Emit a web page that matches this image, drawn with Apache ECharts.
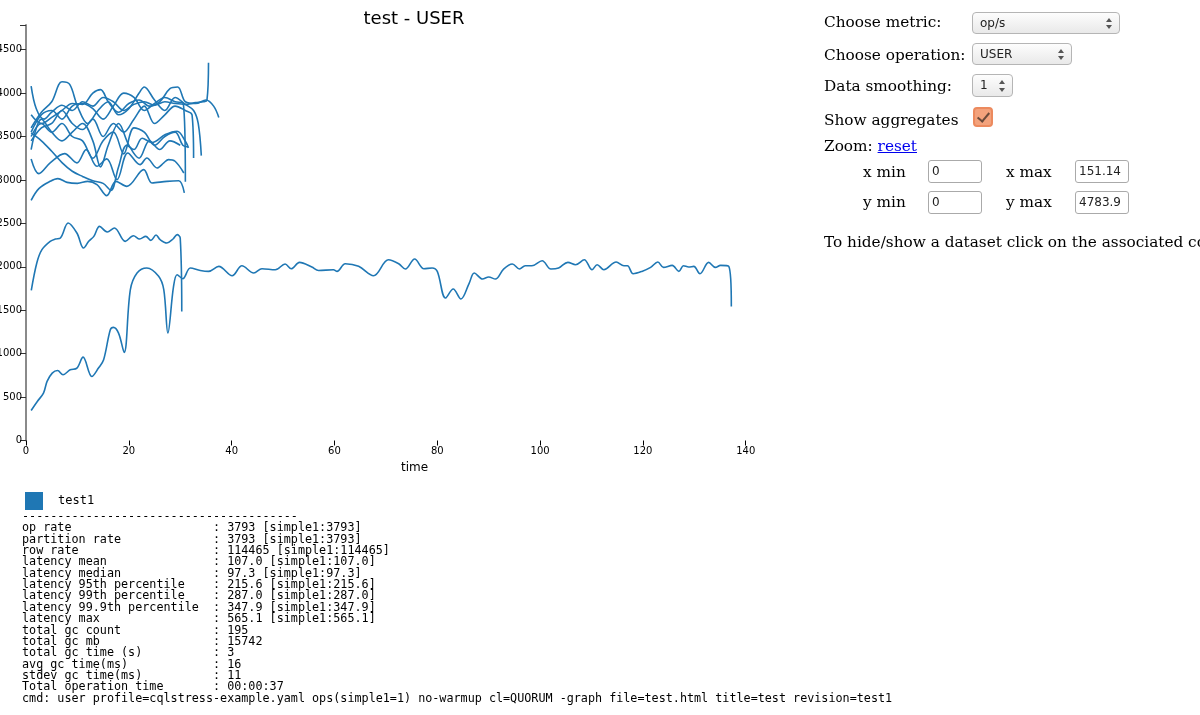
<!DOCTYPE html>
<html>
<head>
<meta charset="utf-8">
<script src="https://cdn.jsdelivr.net/npm/echarts@6/dist/echarts.min.js"></script>
<style>
html,body{margin:0;padding:0;width:1200px;height:715px;overflow:hidden;background:#fff;}
#chart{position:absolute;left:0;top:0;width:828px;height:515px;}
.lbl{position:absolute;font-family:"DejaVu Serif",serif;font-size:15.3px;color:#000;white-space:nowrap;line-height:18px;}
.sel{position:absolute;border:1px solid #b5b5b5;border-radius:4px;background:linear-gradient(#fdfdfd,#e9e9e9);font-family:"DejaVu Sans",sans-serif;font-size:12px;color:#222;box-sizing:border-box;padding-left:7px;}
.arr{position:absolute;right:7px;width:0;height:0;border-left:3px solid transparent;border-right:3px solid transparent;}
.arr.up{border-bottom:4px solid #555;}
.arr.dn{border-top:4px solid #555;}
.inp{position:absolute;border:1px solid #aaa;border-radius:3px;background:#fff;font-family:"DejaVu Sans",sans-serif;font-size:12px;color:#222;box-sizing:border-box;padding-left:3px;}
.st{position:absolute;left:22px;margin:0;font-family:"DejaVu Sans Mono",monospace;font-size:11.75px;line-height:12px;white-space:pre;color:#000;}
a{color:#0000ee;}
</style>
</head>
<body>
<div id="chart"></div>

<div class="lbl" style="left:824px;top:13px;">Choose metric:</div>
<div class="sel" style="left:972px;top:12px;width:148px;height:22px;line-height:20px;">op/s<div class="arr up" style="top:5px"></div><div class="arr dn" style="top:12px"></div></div>

<div class="lbl" style="left:824px;top:46px;">Choose operation:</div>
<div class="sel" style="left:972px;top:43px;width:100px;height:22px;line-height:20px;">USER<div class="arr up" style="top:5px"></div><div class="arr dn" style="top:12px"></div></div>

<div class="lbl" style="left:824px;top:77px;">Data smoothing:</div>
<div class="sel" style="left:972px;top:74px;width:41px;height:23px;line-height:21px;">1<div class="arr up" style="top:5px"></div><div class="arr dn" style="top:13px"></div></div>

<div class="lbl" style="left:824px;top:111px;">Show aggregates</div>
<div style="position:absolute;left:973px;top:107px;width:20px;height:20px;box-sizing:border-box;border:2px solid #ec8a5e;border-radius:4px;background:#f3a27c;">
  <div style="position:absolute;left:5px;top:1px;width:5px;height:10px;border-right:2px solid #6b4a3a;border-bottom:2px solid #6b4a3a;transform:rotate(40deg);"></div>
</div>

<div class="lbl" style="left:824px;top:137px;">Zoom: <a href="#">reset</a></div>

<div class="lbl" style="left:863px;top:163px;">x min</div>
<div class="inp" style="left:928px;top:160px;width:54px;height:23px;line-height:21px;">0</div>
<div class="lbl" style="left:1006px;top:163px;">x max</div>
<div class="inp" style="left:1075px;top:160px;width:54px;height:23px;line-height:21px;">151.14</div>

<div class="lbl" style="left:863px;top:193px;">y min</div>
<div class="inp" style="left:928px;top:191px;width:54px;height:23px;line-height:21px;">0</div>
<div class="lbl" style="left:1006px;top:193px;">y max</div>
<div class="inp" style="left:1075px;top:191px;width:54px;height:23px;line-height:21px;">4783.9</div>

<div class="lbl" style="left:824px;top:233px;">To hide/show a dataset click on the associated colored box</div>

<div id="stats"></div>

<script>
// ---------- data ----------
const xTicks = [0, 20, 40, 60, 80, 100, 120, 140];
const yTicks = [0, 500, 1000, 1500, 2000, 2500, 3000, 3500, 4000, 4500];
const xMax = 151.14;
const yMax = 4783.9;

// long run (time, op/s)
const runLong = [[1,346],[2.2,450],[3.4,546],[4.1,680],[5.1,776],[6.15,806],[7.2,757],[8.6,814],[9.9,834],[11.1,960],[12.8,737],[14.1,834],[15.1,930],[16.4,1275],[17.0,1302],[18.0,1237],[19.1,1014],[20.3,1736],[21.6,1928],[23.5,1986],[25.8,1890],[26.8,1736],[27.6,1237],[28.7,1774],[29.4,1909],[30.5,1863],[31.96,1986],[33.9,1958],[35.5,1947],[37.5,2005],[40.1,1897],[42,2012],[44.3,1928],[45.9,1978],[48.5,1966],[50.4,2032],[51.6,1978],[53.2,2051],[55.6,1997],[56.9,1958],[59.8,1966],[60.5,1947],[62.1,2035],[64.7,2005],[67.6,1897],[70.5,2081],[72.5,2035],[73.8,1974],[75.6,2089],[77.4,1978],[79.0,1986],[80.0,1947],[81.6,1640],[83.1,1744],[84.6,1629],[86.2,1810],[87.2,1928],[88.8,1859],[90.0,1882],[91.3,1859],[92.9,1974],[94.6,2032],[96.0,1974],[97.1,2012],[98.4,2012],[100.4,2070],[102.1,1974],[103.6,1986],[105.4,2051],[106.9,2024],[108.6,2081],[110.1,1966],[111.1,2024],[112.4,1966],[114.8,2055],[116.3,2012],[117.0,2012],[118.1,1920],[119.8,1947],[121.5,1993],[122.9,2055],[124.0,1993],[125.7,2016],[127.0,1947],[127.9,2012],[128.9,1997],[129.9,2005],[131.1,1920],[132.8,2051],[134.1,1993],[135.1,2016],[136.7,2005],[137.2,1544]];
const runB = [[1.03,1728],[2.1,2044],[3.1,2197],[4.7,2293],[5.7,2320],[6.7,2332],[8.2,2504],[9.9,2389],[11.2,2216],[12.2,2293],[13.2,2350],[14.3,2465],[15.8,2401],[17.2,2447],[19.3,2293],[20.9,2358],[22.1,2320],[23.3,2350],[24.3,2304],[25.3,2366],[26.1,2312],[27.4,2274],[28.6,2320],[29.4,2370],[30.0,2332],[30.3,1486]];
const run1 = [[1,4080],[2,3820],[3.5,3700],[5,3780],[7,3860],[9,3800],[11,3900],[13,3850],[15,3950],[17,3900],[19,3800],[21,3870],[23,3900],[25,3860],[27,3900],[29,3880],[31,3870],[33,3890],[34.5,3900],[35.2,3920],[35.5,4350]];
const run2 = [[1,3600],[3,3780],[5,3900],[7,4130],[8.5,4100],[10,3850],[12,3650],[14,3800],[16,3900],[18,3750],[20,3820],[22,4000],[23,4070],[25,3920],[27,3800],[29,3950],[31,3870],[32.6,3800],[33.5,3650],[34.1,3280]];
const run3 = [[1,3750],[3,3650],[5,3720],[7,3800],[9,3880],[11,3870],[13,4000],[14.5,4040],[16,3900],[18,3780],[20,3880],[22,3920],[24,3850],[26,3900],[28,4050],[29.5,4070],[31,3900],[33,3880],[35,3920],[36.5,3850],[37.5,3720]];
const run4 = [[1,3550],[3,3750],[5,3800],[7,3700],[9,3850],[11,3880],[13,3820],[15,3700],[17,3850],[19,4000],[21,3950],[23,3800],[25,3880],[27,3950],[29,3900],[30.6,3880],[31,2980]];
const run5 = [[1,3450],[3,3600],[5,3650],[7,3800],[9,3650],[11,3580],[13,3700],[15,3500],[17,3650],[19,3550],[21,3700],[23,3850],[25,3650],[27,3750],[29,3850],[31,3800],[32.3,3750],[32.6,3253]];
const run6 = [[1,3500],[3,3650],[5,3550],[7,3650],[9,3500],[11,3450],[13,3250],[15,3450],[17,3550],[19,3300],[21,3600],[23,3550],[25,3400],[27,3500],[29,3550],[30.5,3400],[31.5,3380]];
const run7 = [[1,3350],[3,3700],[5,3550],[7,3450],[9,3550],[11,3650],[13,3450],[14.5,3150],[16,3400],[18,3650],[20,3400],[22,3250],[24,3450],[26,3350],[28,3450],[30,3400]];
const run8 = [[1,3541],[3,3450],[5,3330],[7,3200],[9,3100],[11,3040],[13,2990],[15,2960],[16.5,2880],[18,3150],[19.6,3400],[21,3350],[22.6,3480],[24.5,3430],[27.1,3522],[29.4,3560],[31,3445],[31.6,3369]];
const run9 = [[1,3242],[2.5,3073],[4.7,3196],[7.5,3303],[9.9,3196],[11.7,3349],[13.8,3157],[15.7,3242],[17.7,3003],[19.8,3311],[22.2,3176],[23.5,3253],[25.5,3138],[26.8,3196],[27.7,3234],[29,3215],[30.7,3080]];
const run10 = [[1,2765],[2.5,2900],[4.7,2984],[6.2,3015],[8,2972],[10,2960],[12,2984],[13.8,2946],[15.7,2819],[17.5,2984],[19.6,2926],[22.9,3119],[24.5,2965],[27.4,2984],[29.7,2990],[30.8,2850]];

const statLabels = ['op rate','partition rate','row rate','latency mean','latency median','latency 95th percentile','latency 99th percentile','latency 99.9th percentile','latency max','total gc count','total gc mb','total gc time (s)','avg gc time(ms)','stdev gc time(ms)','Total operation time'];
const statValues = ['3793 [simple1:3793]','3793 [simple1:3793]','114465 [simple1:114465]','107.0 [simple1:107.0]','97.3 [simple1:97.3]','215.6 [simple1:215.6]','287.0 [simple1:287.0]','347.9 [simple1:347.9]','565.1 [simple1:565.1]','195','15742','3','16','11','00:00:37'];
const cmdLine = 'cmd: user profile=cqlstress-example.yaml ops(simple1=1) no-warmup cl=QUORUM -graph file=test.html title=test revision=test1';

// ---------- stats text ----------
const lines = ['-'.repeat(39)];
statLabels.forEach((l, i) => lines.push(l.padEnd(27, ' ') + ': ' + statValues[i]));
lines.push(cmdLine);
const statsEl = document.getElementById('stats');
lines.forEach((s, i) => {
  const d = document.createElement('div');
  d.className = 'st';
  d.style.top = (510 + i * 11.35) + 'px';
  d.textContent = s;
  statsEl.appendChild(d);
});

// ---------- chart ----------
const color = '#1f77b4';
const runs = [runLong, runB, run1, run2, run3, run4, run5, run6, run7, run8, run9, run10];
const chart = echarts.init(document.getElementById('chart'));
chart.setOption({
  animation: false,
  title: {
    text: 'test - USER', left: 'center', top: 5,
    textStyle: {fontFamily: 'DejaVu Sans', fontSize: 18, fontWeight: 'normal', color: '#000'}
  },
  legend: {
    data: ['test1'], left: 25, top: 492, padding: 0, icon: 'rect', itemWidth: 18, itemHeight: 18,
    textStyle: {fontFamily: 'DejaVu Sans Mono', fontSize: 12, color: '#000', padding: [0, 0, 0, 10]}
  },
  grid: {left: 26, top: 25, width: 777, height: 415.5, containLabel: false, outerBoundsMode: 'none'},
  xAxis: {
    type: 'value', min: 0, max: xMax, interval: 20,
    name: 'time', nameLocation: 'middle', nameGap: 20,
    nameTextStyle: {fontFamily: 'DejaVu Sans', fontSize: 12, color: '#000'},
    axisLine: {show: false},
    axisTick: {show: true, length: 5, lineStyle: {color: '#000'}, customValues: xTicks},
    axisLabel: {customValues: xTicks, fontFamily: 'DejaVu Sans', fontSize: 10, color: '#000', margin: 6,
      formatter: v => String(v)},
    splitLine: {show: false}
  },
  yAxis: {
    type: 'value', min: 0, max: yMax, interval: 500,
    axisLine: {show: true, lineStyle: {color: '#8a8a8a', width: 2}},
    axisTick: {show: true, length: 6, lineStyle: {color: '#333'}, customValues: yTicks.concat([yMax])},
    axisLabel: {customValues: yTicks, fontFamily: 'DejaVu Sans', fontSize: 10, color: '#000', margin: 4,
      formatter: v => String(v)},
    splitLine: {show: false}
  },
  series: runs.map(d => ({
    name: 'test1', type: 'line', data: d, showSymbol: false, smooth: 0.35,
    lineStyle: {color: color, width: 1.6}, itemStyle: {color: color}
  }))
});
</script>
</body>
</html>
